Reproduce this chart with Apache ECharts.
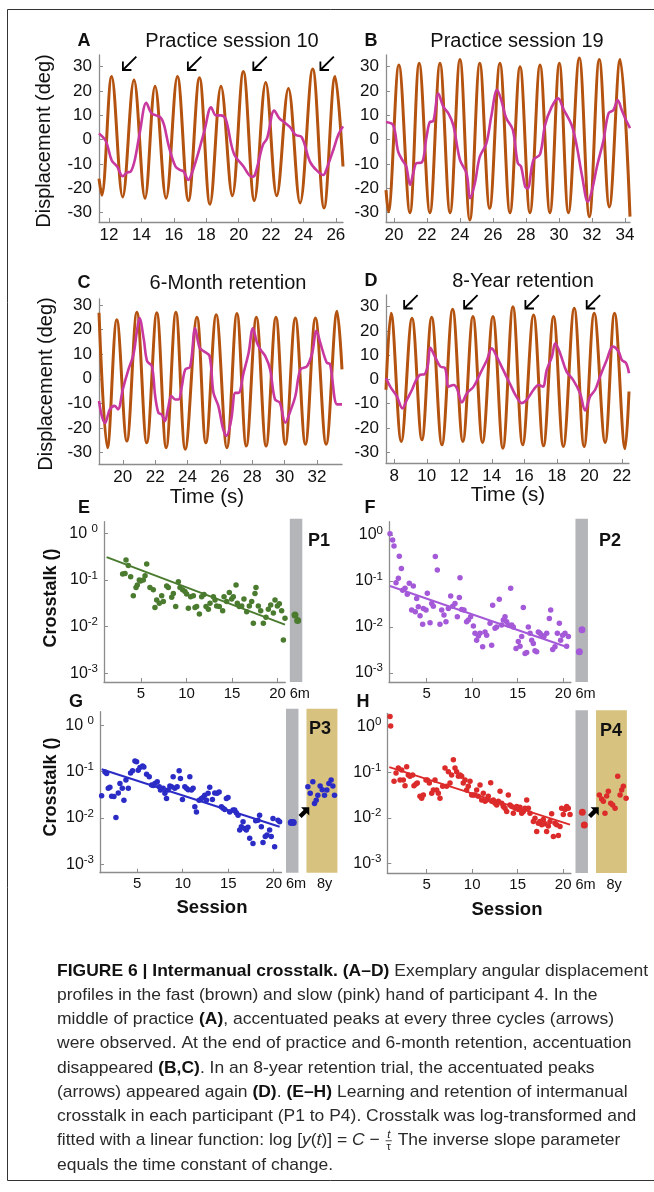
<!DOCTYPE html>
<html><head><meta charset="utf-8">
<script src="https://cdn.jsdelivr.net/npm/echarts@6/dist/echarts.min.js"></script>
<style>html,body{margin:0;padding:0;background:#fff}#c{width:654px;height:1192px}</style>
</head><body><div id="c"></div>
<script>
// ---------------- DATA ----------------
// Panels A-D: [time (s), displacement (deg)] (fast = brown, slow = pink)
const brownA = [[11.38,-16],[11.55,-22.8],[12.16,26],[12.84,-23.5],[13.54,24.5],[14.22,-24],[14.84,22],[15.52,-24],[16.22,26],[16.9,-25],[17.58,25.5],[18.23,-26.5],[18.91,22],[19.61,-23],[20.29,28],[20.97,-25],[21.67,23.5],[22.35,-23],[23.07,21],[23.79,-26],[24.57,29],[25.27,-28],[25.95,26],[26.44,-11]];
const pinkA = [[11.38,2.6],[11.8,-0.5],[12.16,-8.4],[12.5,-11],[12.85,-15],[13.1,-13.5],[13.35,-13],[13.6,-8],[13.9,3],[14.3,15.2],[14.6,11],[14.9,10],[15.2,9],[15.4,6],[15.7,-3],[16.1,-11],[16.4,-12.5],[16.6,-13],[16.9,-16.5],[17.1,-14],[17.5,-5.6],[17.9,4],[18.3,13.3],[18.6,10],[18.9,10],[19.2,8.5],[19.7,-5.6],[20.3,-11],[20.8,-15.2],[21.0,-14.5],[21.5,-2],[21.75,0.5],[22.2,12],[22.5,8.9],[22.9,6.7],[23.2,5],[23.5,2],[23.9,1],[24.4,-9],[24.8,-12.5],[25.23,-14.5],[25.4,-12.5],[25.85,-4],[26.15,2],[26.44,5.5]];
const brownB = [[19.52,-20.7],[19.66,-29.6],[20.3,30.7],[20.97,-30],[21.53,31.4],[22.18,-30],[22.79,31.4],[23.4,-30],[24.0,33],[24.6,-33],[25.2,31.4],[25.8,-28.2],[26.42,31.4],[27.03,-30],[27.64,30],[28.24,-30],[28.85,30.7],[29.45,-30],[30.02,31.4],[30.57,-30],[31.23,33.6],[31.84,-31.6],[32.44,33],[33.05,-27.6],[33.7,33],[34.3,-31.6]];
const pinkB = [[19.52,7.3],[19.96,5.9],[20.26,-5],[20.57,-9],[20.75,-11],[20.98,-18.5],[21.17,-13.8],[21.37,-9.6],[21.68,-9.4],[21.98,1.3],[22.18,7.3],[22.38,7.6],[22.69,19],[22.99,13.6],[23.3,10.8],[23.6,5.9],[24.0,-8.3],[24.4,-13.8],[24.62,-24],[24.9,-18],[25.2,-7],[25.6,-1.5],[25.9,9.7],[26.25,20.5],[26.5,16.3],[26.8,8.9],[27.2,4.1],[27.5,-9.6],[27.7,-11],[27.95,-19.3],[28.1,-20],[28.45,-8.3],[28.85,-6],[29.15,5.9],[29.55,13.4],[29.95,17],[30.26,12.7],[30.77,5.9],[31.07,-2.4],[31.4,-15],[31.75,-25.5],[32.0,-20.7],[32.3,-11],[32.7,0],[33.0,10.8],[33.3,12.2],[33.55,16.3],[33.8,12.2],[34.0,8.9],[34.3,4.8]];
const brownC = [[18.53,26.8],[19.05,-28],[19.63,24],[20.25,-25.3],[20.87,27],[21.48,-26],[22.1,26.8],[22.68,-28],[23.28,27],[23.86,-28.6],[24.58,25],[25.13,-26],[25.77,26],[26.43,-28],[27.05,26.5],[27.63,-27.3],[28.25,25],[28.85,-27.3],[29.46,25],[30.04,-26.6],[30.66,24.7],[31.28,-26.6],[31.9,24.7],[32.56,-26.6],[33.24,27.4],[33.54,3.8]];
const pinkC = [[18.53,-9],[18.7,-15],[18.9,-18],[19.2,-12.4],[19.5,-11],[19.7,-12.4],[20.0,-4.3],[20.35,3.8],[20.66,9.9],[20.87,19.3],[21.03,24.7],[21.3,15.9],[21.5,7.2],[21.8,5.1],[22.0,-7],[22.2,-13.8],[22.4,-14.5],[22.6,-17.2],[22.8,-11.8],[23.0,-7],[23.24,-8.4],[23.44,-8.4],[23.65,-3],[23.86,3.8],[24.16,4.9],[24.47,20.5],[24.74,12.6],[25.0,11.2],[25.36,9.2],[25.6,-5.7],[25.9,-11],[26.2,-20.5],[26.4,-23.2],[26.7,-16.5],[26.95,-5.7],[27.15,-5.7],[27.46,2.4],[27.77,10.5],[28.04,20.5],[28.29,14.6],[28.5,11.9],[28.8,9.2],[29.1,3.8],[29.4,-8.4],[29.7,-9.7],[30.04,-17.8],[30.35,-13.1],[30.66,-7],[30.97,3.8],[31.38,5.1],[31.7,10.5],[31.96,19.5],[32.2,14.6],[32.6,6.5],[32.8,6],[33.24,-10.4],[33.54,-10.4]];
const brownD = [[7.49,-4.3],[7.8,27.3],[8.43,-25.6],[9.09,25.2],[9.7,-24.9],[10.3,25.6],[10.93,-27],[11.59,28.9],[12.22,-25.6],[12.84,25.9],[13.43,-26],[14.07,25.9],[14.68,-28.4],[15.3,30],[15.9,-27],[16.57,26.6],[17.18,-27.4],[17.8,25.9],[18.4,-27.7],[19.07,29.3],[19.68,-27.7],[20.3,27.3],[20.97,-26],[21.55,27.3],[22.2,-28.6],[22.44,-5]];
const pinkD = [[7.49,0.5],[7.75,-3],[8.16,-7],[8.5,-12],[8.78,-8.4],[9.09,-4.3],[9.3,-0.9],[9.6,1.9],[9.85,2.1],[10.05,5.3],[10.22,13],[10.5,9.4],[10.83,5.3],[11.13,4.6],[11.34,-3],[11.65,-2.3],[11.85,-3.6],[12.16,-9.5],[12.47,-5.7],[12.88,-3],[13.29,2.5],[13.7,8],[14.0,12.8],[14.3,9.4],[14.7,3.9],[15.1,-1.6],[15.5,-7],[15.85,-9.8],[16.15,-8.4],[16.57,-4.3],[16.87,-2.3],[17.14,-3],[17.38,3.9],[17.7,9.4],[17.9,14.9],[18.2,10.8],[18.6,3.2],[19.0,-0.2],[19.43,-5.7],[19.74,-12.8],[20.05,-7],[20.36,-4.3],[20.66,1.2],[21.07,8],[21.44,13.5],[21.8,11.5],[22.0,8],[22.26,6.7],[22.44,2.5]];
// accentuation arrows [time, deg]
const arrowsA = [[13.27,31.4],[17.28,31.4],[21.32,31.4],[25.46,31.4]];
const arrowsD = [[9.02,32],[12.71,32],[16.48,32],[20.25,32]];
const ticksA = [12,14,16,18,20,22,24,26];
const ticksB = [20,22,24,26,28,30,32,34];
const ticksC = [20,22,24,26,28,30,32];
const ticksD = [8,10,12,14,16,18,20,22];
const degTicks = [-30,-20,-10,0,10,20,30];

// Panels E-H: [session, log10(crosstalk)]
const p1 = [[3.35,-0.57],[2.98,-0.87],[3.24,-0.86],[3.6,-0.69],[3.86,-0.93],[4.15,-1.34],[4.45,-1.16],[4.59,-1.11],[4.81,-1.0],[4.96,-1.02],[5.25,-1.0],[5.44,-0.91],[5.62,-0.66],[5.98,-1.16],[6.35,-1.21],[6.53,-1.59],[6.72,-1.43],[7.01,-1.5],[7.27,-1.34],[7.45,-1.46],[7.82,-1.13],[8.0,-1.16],[8.37,-1.37],[8.55,-1.29],[8.81,-1.57],[9.1,-1.04],[9.28,-1.16],[9.57,-1.21],[9.83,-1.25],[10.01,-1.3],[10.2,-1.61],[10.45,-1.36],[10.75,-1.34],[10.93,-1.59],[11.11,-1.57],[11.41,-1.73],[11.66,-1.36],[11.92,-1.31],[12.14,-1.57],[12.4,-1.63],[12.58,-1.5],[12.95,-1.36],[13.13,-1.43],[13.31,-1.56],[13.6,-1.57],[13.97,-1.66],[14.12,-1.36],[14.41,-1.46],[14.7,-1.27],[14.96,-1.41],[15.14,-1.36],[15.44,-1.11],[15.58,-1.5],[15.8,-1.57],[16.06,-1.56],[16.31,-1.41],[16.61,-1.68],[16.9,-1.56],[17.16,-1.46],[17.34,-1.93],[17.52,-1.29],[17.63,-1.16],[17.89,-1.56],[18.15,-1.66],[18.44,-1.93],[18.73,-1.8],[18.99,-1.63],[19.25,-1.54],[19.54,-1.71],[19.72,-1.43],[19.98,-1.56],[20.2,-1.51],[20.45,-1.66],[20.64,-2.29],[20.82,-1.82]];
const p1Six = [[21.92,-1.75],[22.21,-1.87]];
const p1Fit = [[1.22,-0.51],[20.82,-1.96]];
const p2 = [[0.97,0.03],[1.26,-0.11],[1.41,-0.24],[1.99,-0.46],[2.22,-0.73],[1.63,-1.04],[1.89,-0.94],[2.36,-1.2],[2.62,-1.16],[2.87,-1.29],[3.09,-1.05],[3.35,-1.63],[3.53,-1.11],[3.9,-1.38],[3.75,-1.67],[4.08,-1.56],[4.27,-1.76],[4.56,-1.94],[4.63,-1.6],[4.93,-1.63],[5.07,-1.27],[5.37,-1.91],[5.55,-1.49],[5.73,-1.55],[5.95,-0.47],[6.17,-0.76],[6.46,-1.94],[6.65,-1.63],[6.9,-1.74],[7.12,-1.89],[7.38,-1.6],[7.64,-1.33],[7.86,-1.55],[8.11,-1.49],[8.37,-1.78],[8.59,-1.36],[8.66,-0.93],[8.85,-1.62],[9.1,-1.63],[9.39,-1.89],[9.58,-1.85],[9.83,-1.78],[10.13,-1.98],[10.31,-2.14],[10.49,-2.29],[10.68,-2.2],[10.86,-2.14],[11.15,-2.43],[11.41,-2.11],[11.59,-2.18],[11.96,-1.92],[12.14,-2.4],[12.25,-1.53],[12.51,-2.03],[12.69,-2.0],[12.98,-1.4],[13.24,-1.96],[13.42,-1.85],[13.61,-1.78],[13.79,-1.89],[13.97,-1.96],[14.23,-1.16],[14.34,-1.96],[14.52,-2.0],[14.82,-2.47],[15.07,-2.32],[15.26,-2.42],[15.44,-2.21],[15.62,-1.58],[15.81,-2.58],[15.99,-2.56],[16.17,-2.0],[16.36,-2.14],[16.54,-2.29],[16.72,-2.36],[16.9,-2.52],[17.09,-2.54],[17.27,-2.11],[17.45,-2.14],[17.64,-2.18],[17.89,-2.21],[18.19,-2.14],[18.48,-1.82],[18.63,-1.63],[18.85,-2.49],[19.1,-2.43],[19.36,-2.14],[19.58,-1.92],[19.72,-2.29],[19.94,-2.18],[20.2,-2.14],[20.38,-2.42],[20.57,-2.21]];
const p2Six = [[22.07,-2.06],[21.78,-2.54]];
const p2Fit = [[0.97,-1.11],[20.57,-2.45]];
const p3 = [[1.09,-1.52],[1.46,-1.01],[1.64,-1.04],[1.82,-1.36],[2.0,-1.34],[2.19,-1.53],[2.44,-1.54],[2.66,-1.99],[2.92,-1.46],[3.1,-1.26],[3.36,-1.36],[3.54,-1.62],[3.76,-1.18],[4.02,-1.36],[4.27,-1.03],[4.49,-0.98],[4.75,-0.77],[4.93,-0.79],[5.11,-0.97],[5.3,-0.91],[5.59,-0.88],[5.73,-0.9],[6.03,-1.06],[6.32,-1.11],[6.58,-1.29],[6.76,-1.3],[6.94,-1.26],[7.2,-1.22],[7.42,-1.33],[7.56,-1.4],[7.85,-1.36],[8.04,-1.47],[8.22,-1.58],[8.4,-1.4],[8.59,-1.31],[8.77,-1.33],[8.95,-1.11],[9.13,-1.36],[9.39,-1.33],[9.61,-0.98],[9.75,-1.15],[9.97,-1.6],[10.23,-1.33],[10.41,-1.36],[10.6,-1.39],[10.78,-1.11],[10.96,-1.4],[11.14,-1.36],[11.33,-1.76],[11.51,-1.87],[11.8,-1.62],[12.06,-1.58],[12.24,-1.56],[12.42,-1.51],[12.61,-1.62],[12.79,-1.47],[12.97,-1.34],[13.26,-1.6],[13.52,-1.46],[13.78,-1.47],[14.0,-1.44],[14.25,-1.76],[14.43,-1.79],[14.62,-1.82],[14.8,-1.58],[14.98,-1.56],[15.16,-1.87],[15.53,-1.83],[15.71,-1.83],[15.89,-1.89],[16.08,-1.94],[16.26,-2.26],[16.44,-2.19],[16.63,-2.08],[16.81,-2.23],[16.99,-2.26],[17.17,-2.2],[17.36,-2.44],[17.72,-2.55],[18.02,-2.06],[18.27,-2.05],[18.45,-1.94],[18.64,-2.19],[18.82,-2.53],[19.07,-2.4],[19.26,-2.37],[19.55,-2.26],[19.73,-2.4],[19.92,-2.01],[20.1,-2.62],[20.47,-2.05],[20.65,-2.08]];
const p3Six = [[21.93,-2.1],[22.15,-2.1]];
const p3Eight = [[23.75,-1.33],[24.01,-1.47],[24.3,-1.22],[24.48,-1.69],[24.67,-1.62],[24.85,-1.51],[25.1,-1.31],[25.33,-1.39],[25.58,-1.51],[25.84,-1.4],[26.06,-1.26],[26.31,-1.18],[26.5,-1.31],[26.68,-1.51]];
const p3Fit = [[1.09,-0.95],[20.65,-2.19]];
const p4 = [[0.97,0.22],[1.04,0.01],[1.41,-1.2],[1.63,-1.02],[1.88,-0.91],[2.07,-1.17],[2.25,-0.95],[2.43,-1.17],[2.62,-1.3],[2.8,-0.88],[2.98,-1.06],[3.16,-1.09],[3.46,-1.06],[3.6,-1.3],[3.82,-1.26],[3.97,-1.24],[4.26,-1.53],[4.45,-1.57],[4.63,-1.5],[4.92,-1.17],[5.07,-1.17],[5.29,-1.24],[5.55,-1.46],[5.73,-1.39],[5.91,-1.17],[6.1,-1.39],[6.28,-1.46],[6.46,-1.57],[6.75,-1.31],[7.01,-0.91],[7.19,-1.31],[7.38,-0.99],[7.56,-1.24],[7.74,-1.06],[7.93,-0.73],[8.11,-0.91],[8.29,-0.99],[8.48,-1.09],[8.66,-1.06],[8.84,-1.09],[9.02,-1.24],[9.21,-1.17],[9.39,-1.39],[9.57,-1.31],[9.76,-1.2],[9.94,-1.5],[10.12,-1.5],[10.31,-1.5],[10.49,-1.39],[10.67,-1.53],[10.86,-1.28],[11.04,-1.61],[11.22,-1.46],[11.41,-1.64],[11.59,-1.61],[11.77,-1.53],[12.03,-1.23],[12.14,-1.64],[12.32,-1.61],[12.51,-1.68],[12.69,-1.72],[12.87,-1.64],[13.06,-1.42],[13.24,-1.68],[13.42,-1.75],[13.6,-1.79],[13.79,-1.86],[13.97,-1.5],[14.15,-1.72],[14.34,-1.75],[14.52,-1.9],[14.7,-1.79],[14.89,-1.75],[15.07,-1.82],[15.25,-1.77],[15.44,-1.9],[15.62,-1.86],[15.8,-1.79],[15.99,-1.61],[16.17,-1.79],[16.35,-1.9],[16.72,-2.08],[16.9,-2.01],[17.09,-2.3],[17.27,-2.12],[17.45,-2.08],[17.64,-2.15],[17.82,-2.04],[18.0,-2.13],[18.18,-2.3],[18.37,-2.18],[18.55,-2.08],[18.73,-1.91],[18.92,-2.41],[19.1,-2.12],[19.28,-2.15],[19.47,-2.39],[19.65,-2.19],[19.83,-1.79],[20.01,-1.93],[20.2,-1.82],[20.38,-1.75],[20.56,-1.79],[20.75,-1.93]];
const p4Six = [[22.1,-1.88],[22.32,-2.16]];
const p4Eight = [[23.97,-1.5],[24.23,-1.59],[24.41,-1.64],[24.59,-1.9],[24.78,-1.52],[24.96,-1.42],[25.22,-1.68],[25.44,-1.72],[25.7,-1.79],[25.99,-1.09],[26.25,-1.5],[26.43,-1.39],[26.61,-1.31],[26.91,-1.57]];
const p4Fit = [[0.89,-0.89],[20.75,-2.15]];
const retentionArrow = [[23.4,-1.87]];
const sessionTicks = [5,10,15,20];
const decadeTicks = [-3,-2,-1,0];
const sixMonthBand = [21.35,22.72];
const eightYearBand = [23.6,27.0];

// ---------------- STYLE ----------------
const FONT = "'Liberation Sans', Arial, Helvetica, sans-serif";
const AX = '#8c8c8c';
const BROWN = '#b4520f';
const PINK = '#c8389e';
const THIN_ARROW = 'path://M0,8 L22,8 M15,1 L22,8 L15,15';
const THICK_ARROW = 'path://M0,5 L10,5 L10,0 L18,8 L10,16 L10,11 L0,11 Z';

const grids = [], xAxes = [], yAxes = [], series = [];

function axisBase(gi, ticks, fontSize, margin) {
  return {
    gridIndex: gi, type: 'value',
    axisLine: {show: true, onZero: false, lineStyle: {color: AX, width: 1.3}},
    axisTick: {show: true, inside: true, length: 4, customValues: ticks, lineStyle: {color: AX, width: 1}},
    axisLabel: {customValues: ticks, fontSize: fontSize, fontFamily: FONT, color: '#111', margin: margin},
    splitLine: {show: false}
  };
}

function addTimePanel(p) {
  const gi = grids.length;
  grids.push({left: p.grid[0], top: p.grid[1], width: p.grid[2], height: p.grid[3], outerBoundsMode: 'none'});
  const xa = axisBase(gi, p.xTicks, 17, 5); xa.min = p.x[0]; xa.max = p.x[1];
  const ya = axisBase(gi, degTicks, 17, 7); ya.min = p.y[0]; ya.max = p.y[1];
  xAxes.push(xa); yAxes.push(ya);
  series.push({type: 'line', xAxisIndex: gi, yAxisIndex: gi, data: p.brown, smooth: 0.36, showSymbol: false,
    lineStyle: {color: BROWN, width: 3}, z: 2, animation: false});
  series.push({type: 'line', xAxisIndex: gi, yAxisIndex: gi, data: p.pink, smooth: 0.35, showSymbol: false,
    lineStyle: {color: PINK, width: 2.6}, z: 3, animation: false});
  if (p.arrows) series.push({type: 'scatter', xAxisIndex: gi, yAxisIndex: gi, data: p.arrows, symbol: THIN_ARROW,
    symbolSize: 19, symbolRotate: 225, symbolKeepAspect: true,
    itemStyle: {color: 'rgba(0,0,0,0)', borderColor: '#000', borderWidth: 1.8, opacity: 1}, z: 5, animation: false});
}

const MAIN_MAX = 20.85, RET_MAX = 27.2, PX_SESSION = 9.1;
function addScatterPanel(p) {
  const h = p.bottom - p.top;
  const mainW = (MAIN_MAX - p.xMin) * PX_SESSION;
  const gi = grids.length;
  grids.push({left: p.left, top: p.top, width: mainW, height: h, outerBoundsMode: 'none'});
  const xa = axisBase(gi, sessionTicks, 15, 4); xa.min = p.xMin; xa.max = MAIN_MAX;
  const ya = axisBase(gi, decadeTicks, 16, 6); ya.min = p.y[0]; ya.max = p.y[1];
  ya.axisLabel.formatter = v => (v === 0 && p.space ? '10 {e|0}' : '10{e|' + v + '}');
  ya.axisLabel.rich = {e: {fontSize: 11.5, fontFamily: FONT, color: '#111', verticalAlign: 'bottom', padding: [0, 0, 9, 0]}};
  xAxes.push(xa); yAxes.push(ya);
  series.push({type: 'scatter', xAxisIndex: gi, yAxisIndex: gi, data: p.pts, symbolSize: 5.5,
    itemStyle: {color: p.color, opacity: 1}, z: 3, animation: false});
  series.push({type: 'line', xAxisIndex: gi, yAxisIndex: gi, data: p.fit, showSymbol: false,
    lineStyle: {color: p.color, width: 2}, z: 4, animation: false});
  // retention area (6 months / 8 years)
  const gj = grids.length;
  const ext = 3, pxDec = h / (p.y[1] - p.y[0]);
  grids.push({left: p.left + mainW, top: p.top - ext, width: (RET_MAX - MAIN_MAX) * PX_SESSION, height: h + ext, outerBoundsMode: 'none'});
  xAxes.push({gridIndex: gj, type: 'value', min: MAIN_MAX, max: RET_MAX,
    axisLine: {show: false, onZero: false}, axisTick: {show: false}, splitLine: {show: false},
    axisLabel: {customValues: p.eight ? [22.45, 25.6] : [22.45], fontSize: 14.5, fontFamily: FONT, color: '#111', margin: 4,
      formatter: v => (v < 24 ? '6m' : '8y')}});
  yAxes.push({gridIndex: gj, type: 'value', min: p.y[0], max: p.y[1] + ext / pxDec, show: false, axisLine: {onZero: false}});
  const bands = [[{xAxis: sixMonthBand[0], itemStyle: {color: '#b3b5b9'}}, {xAxis: sixMonthBand[1]}]];
  if (p.eight) bands.push([{xAxis: eightYearBand[0], itemStyle: {color: '#d7c27f'}}, {xAxis: eightYearBand[1]}]);
  series.push({type: 'scatter', xAxisIndex: gj, yAxisIndex: gj, data: p.six, symbolSize: 7,
    itemStyle: {color: p.color, opacity: 1}, z: 3, animation: false,
    markArea: {silent: true, data: bands, itemStyle: {opacity: 1}}});
  if (p.eight) {
    series.push({type: 'scatter', xAxisIndex: gj, yAxisIndex: gj, data: p.eight, symbolSize: 5.5,
      itemStyle: {color: p.color, opacity: 1}, z: 3, animation: false});
    series.push({type: 'scatter', xAxisIndex: gj, yAxisIndex: gj, data: retentionArrow, symbol: THICK_ARROW,
      symbolSize: 13, symbolRotate: 45, symbolKeepAspect: true, itemStyle: {color: '#000', opacity: 1}, z: 5, animation: false});
  }
}

addTimePanel({brown: brownA, pink: pinkA, arrows: arrowsA, xTicks: ticksA, x: [11.38, 26.44], y: [-33.8, 34.8], grid: [99, 55, 244, 167]});
addTimePanel({brown: brownB, pink: pinkB, xTicks: ticksB, x: [19.52, 34.3], y: [-33.8, 34.8], grid: [386, 55, 244, 167]});
addTimePanel({brown: brownC, pink: pinkC, xTicks: ticksC, x: [18.53, 33.54], y: [-34.6, 32.4], grid: [99, 299, 243, 165]});
addTimePanel({brown: brownD, pink: pinkD, arrows: arrowsD, xTicks: ticksD, x: [7.49, 22.44], y: [-34.5, 34.8], grid: [386, 295, 243, 168]});

addScatterPanel({pts: p1, six: p1Six, fit: p1Fit, color: '#4a7b2f', left: 104, xMin: 0.93, top: 521.7, bottom: 682, y: [-3.19, 0.25], space: true});
addScatterPanel({pts: p2, six: p2Six, fit: p2Fit, color: '#a45ad8', left: 389, xMin: 0.86, top: 521.7, bottom: 682, y: [-3.2, 0.29]});
addScatterPanel({pts: p3, six: p3Six, eight: p3Eight, fit: p3Fit, color: '#2b2bc6', left: 100, xMin: 0.91, top: 711.7, bottom: 872.7, y: [-3.18, 0.29], space: true});
addScatterPanel({pts: p4, six: p4Six, eight: p4Eight, fit: p4Fit, color: '#dc2b2b', left: 387.3, xMin: 0.67, top: 713.3, bottom: 873, y: [-3.21, 0.29]});

// ---------------- TEXT ----------------
const graphics = [];
function txt(t, x, y, size, opts) {
  opts = opts || {};
  graphics.push({type: 'text', x: x, y: y, rotation: opts.rot ? Math.PI / 2 : 0, z: 10,
    style: {text: t, font: (opts.bold ? 'bold ' : '') + size + 'px ' + FONT, fill: opts.color || '#111',
      textAlign: opts.align || 'center', textVerticalAlign: 'middle'}});
}
txt('A', 84, 41, 18, {bold: 1}); txt('Practice session 10', 232, 41, 20);
txt('B', 371, 41, 18, {bold: 1}); txt('Practice session 19', 517, 41, 20);
txt('C', 84, 283, 18, {bold: 1}); txt('6-Month retention', 228, 283, 20);
txt('D', 371, 281, 18, {bold: 1}); txt('8-Year retention', 523, 281, 20);
txt('Displacement (deg)', 44, 141, 20, {rot: 1});
txt('Displacement (deg)', 46, 384, 20, {rot: 1});
txt('Time (s)', 207, 497, 20.5); txt('Time (s)', 508, 495, 20.5);
txt('E', 84, 508, 18, {bold: 1}); txt('F', 370, 508, 18, {bold: 1});
txt('G', 76, 702, 18, {bold: 1}); txt('H', 363, 702, 18, {bold: 1});
txt('Crosstalk ()', 51, 598, 18, {bold: 1, rot: 1});
txt('Crosstalk ()', 51, 787, 18, {bold: 1, rot: 1});
txt('Session', 212, 908, 18.5, {bold: 1}); txt('Session', 507, 910, 18.5, {bold: 1});
txt('P1', 319, 541, 18, {bold: 1}); txt('P2', 610, 541, 18, {bold: 1});
txt('P3', 320, 729, 18, {bold: 1}); txt('P4', 611, 731, 18, {bold: 1});

// frame
[[7.5, 9.5, 654, 9.5], [7.5, 9.5, 7.5, 1180.5], [7.5, 1180.5, 654, 1180.5]].forEach(l =>
  graphics.push({type: 'line', shape: {x1: l[0], y1: l[1], x2: l[2], y2: l[3]}, style: {stroke: '#333', lineWidth: 1}, z: 10}));

// caption
const captionLines = [
  [['b', 'FIGURE 6 | Intermanual crosstalk. (A–D)'], ['n', ' Exemplary angular displacement']],
  [['n', 'profiles in the fast (brown) and slow (pink) hand of participant 4. In the']],
  [['n', 'middle of practice '], ['b', '(A)'], ['n', ', accentuated peaks at every three cycles (arrows)']],
  [['n', 'were observed. At the end of practice and 6-month retention, accentuation']],
  [['n', 'disappeared '], ['b', '(B,C)'], ['n', '. In an 8-year retention trial, the accentuated peaks']],
  [['n', '(arrows) appeared again '], ['b', '(D)'], ['n', '. '], ['b', '(E–H)'], ['n', ' Learning and retention of intermanual']],
  [['n', 'crosstalk in each participant (P1 to P4). Crosstalk was log-transformed and']],
  [['n', 'fitted with a linear function: log ['], ['i', 'y'], ['n', '('], ['i', 't'], ['n', ')] = '], ['i', 'C'], ['n', ' − '], ['frac', 't', 'τ'], ['n', ' The inverse slope parameter']],
  [['n', 'equals the time constant of change.']]
];
const CAP_FONT = "'Liberation Sans Narrow', 'Liberation Sans', Arial, sans-serif";
const CAP_SIZE = 17, CAP_X = 57, CAP_Y0 = 971, CAP_LH = 24.25, CAP_W = 591, FRAC_W = 8;
const mctx = document.createElement('canvas').getContext('2d');
function capFont(kind) { return (kind === 'i' ? 'italic ' : '') + (kind === 'b' ? 'bold ' : '') + CAP_SIZE + 'px ' + CAP_FONT; }
function segW(s) { if (s[0] === 'frac') return FRAC_W; mctx.font = capFont(s[0]); return mctx.measureText(s[1]).width; }
const capScale = CAP_W / captionLines[0].reduce((a, s) => a + segW(s), 0);
captionLines.forEach((line, li) => {
  const y = CAP_Y0 + li * CAP_LH;
  let cx = CAP_X;
  line.forEach(s => {
    if (s[0] === 'frac') {
      const w = FRAC_W * capScale;
      graphics.push({type: 'text', x: cx + w / 2, y: y - 6, z: 10, style: {text: s[1], font: 'italic 11px ' + CAP_FONT, fill: '#222', textAlign: 'center', textVerticalAlign: 'middle'}});
      graphics.push({type: 'line', shape: {x1: cx + 1, y1: y, x2: cx + w - 1, y2: y}, style: {stroke: '#222', lineWidth: 0.8}, z: 10});
      graphics.push({type: 'text', x: cx + w / 2, y: y + 6, z: 10, style: {text: s[2], font: '11px ' + CAP_FONT, fill: '#222', textAlign: 'center', textVerticalAlign: 'middle'}});
      cx += w;
    } else {
      graphics.push({type: 'text', x: cx, y: y, scaleX: capScale, z: 10,
        style: {text: s[1], font: capFont(s[0]), fill: s[0] === 'b' ? '#111' : '#2a2a2a', textAlign: 'left', textVerticalAlign: 'middle'}});
      cx += segW(s) * capScale;
    }
  });
});

const chart = echarts.init(document.getElementById('c'), null, {renderer: 'canvas', width: 654, height: 1192});
chart.setOption({
  animation: false,
  backgroundColor: '#fff',
  grid: grids, xAxis: xAxes, yAxis: yAxes, series: series,
  graphic: graphics
});
</script></body></html>
